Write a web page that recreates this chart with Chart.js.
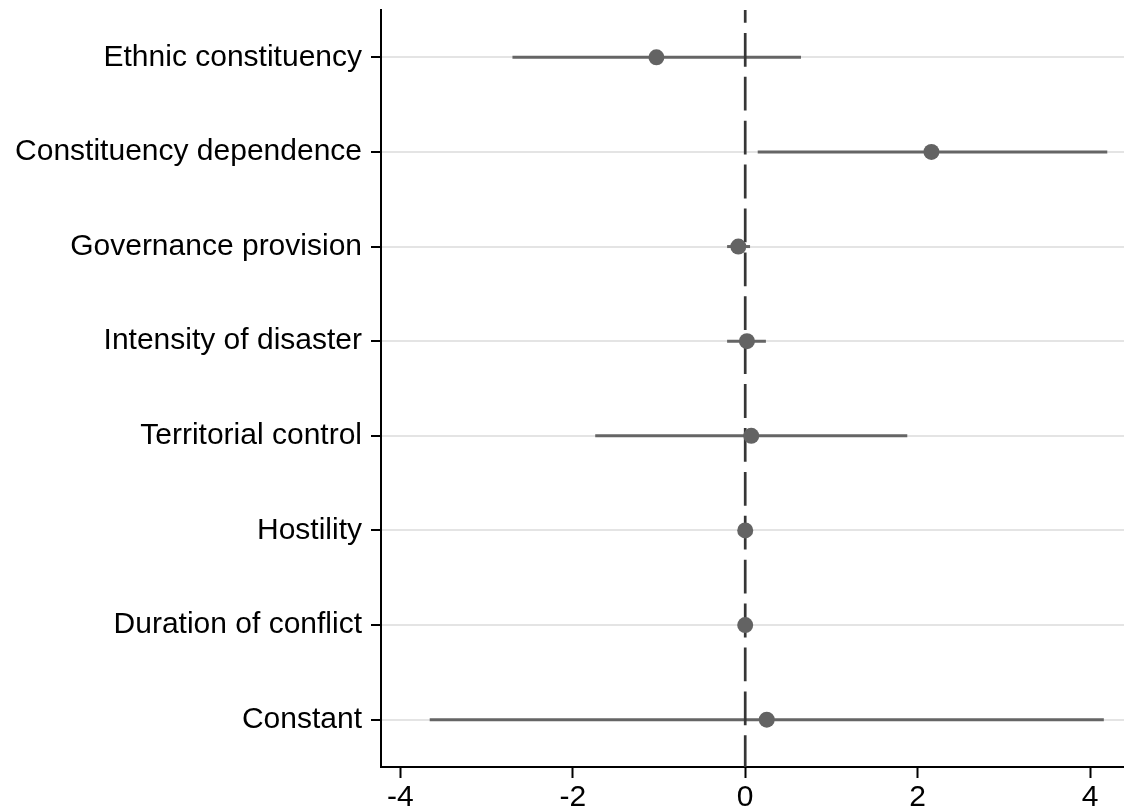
<!DOCTYPE html>
<html>
<head>
<meta charset="utf-8">
<script src="https://cdn.jsdelivr.net/npm/chart.js@4/dist/chart.umd.min.js"></script>
<style>
  html, body { margin: 0; padding: 0; background: #fff; }
  #wrap { width: 1124px; height: 812px; position: relative; }
</style>
</head>
<body>
<div id="wrap"><canvas id="c" width="1124" height="812"></canvas></div>
<script>
const categories = [
  "Ethnic constituency",
  "Constituency dependence",
  "Governance provision",
  "Intensity of disaster",
  "Territorial control",
  "Hostility",
  "Duration of conflict",
  "Constant"
];
const estimates = [-1.03, 2.16, -0.08, 0.02, 0.07, 0.00, 0.00, 0.25];
const lowerCI   = [-2.70, 0.145, -0.21, -0.21, -1.74, -0.02, -0.02, -3.66];
const upperCI   = [0.647, 4.20, 0.056, 0.24, 1.88, 0.02, 0.02, 4.16];
const xTicks = [-4, -2, 0, 2, 4];

Chart.defaults.font.family = "'Liberation Sans', Arial, Helvetica, sans-serif";
Chart.defaults.font.size = 30;
Chart.defaults.color = '#000';

const ciDatasets = categories.map((c, i) => ({
  type: 'line',
  label: 'ci-' + c,
  data: [{x: lowerCI[i], y: i}, {x: upperCI[i], y: i}],
  borderColor: '#656565',
  borderWidth: 3,
  pointRadius: 0,
  fill: false,
  order: 3
}));

const zeroLine = {
  type: 'line',
  label: 'zero',
  data: [{x: 0, y: -0.5}, {x: 0, y: categories.length - 0.5}],
  borderColor: '#363636',
  borderWidth: 2.7,
  borderDash: [33.8, 10.1],
  borderDashOffset: 21,
  pointRadius: 0,
  fill: false,
  order: 2
};

const pointsDs = {
  type: 'scatter',
  label: 'estimates',
  data: categories.map((c, i) => ({x: estimates[i], y: i})),
  backgroundColor: '#636363',
  borderWidth: 0,
  pointRadius: 8,
  pointHoverRadius: 8,
  order: 1
};

function zeroPad(s) { s.paddingTop = 0; s.paddingBottom = 0; s.paddingLeft = 0; s.paddingRight = 0; }

new Chart(document.getElementById('c'), {
  type: 'scatter',
  data: { datasets: [...ciDatasets, zeroLine, pointsDs] },
  options: {
    responsive: false,
    animation: false,
    events: [],
    layout: { autoPadding: false, padding: { top: 10, right: 0, left: 0, bottom: 0 } },
    plugins: { legend: { display: false }, tooltip: { enabled: false } },
    scales: {
      x: {
        type: 'linear',
        min: -4.225,
        max: 4.394,
        afterBuildTicks: (s) => { s.ticks = xTicks.map(v => ({value: v})); },
        afterFit: (s) => { s.height = 45; zeroPad(s); },
        ticks: { padding: 2, font: { size: 30 }, color: '#000',
                 callback: (v) => String(v) , maxRotation: 0, autoSkip: false},
        grid: { drawOnChartArea: false, drawTicks: true, tickLength: 11,
                tickColor: '#000', tickWidth: 2 },
        border: { display: true, color: '#000', width: 2 }
      },
      y: {
        type: 'linear',
        reverse: true,
        min: -0.5,
        max: categories.length - 0.5,
        afterBuildTicks: (s) => { s.ticks = categories.map((c, i) => ({value: i})); },
        afterFit: (s) => { s.width = 381; zeroPad(s); },
        ticks: { padding: 9, font: { size: 30 }, color: '#000',
                 callback: (v) => categories[v], autoSkip: false },
        grid: { drawOnChartArea: true, color: '#e4e4e4', lineWidth: 2,
                drawTicks: true, tickLength: 10, tickColor: '#000', tickWidth: 2 },
        border: { display: true, color: '#000', width: 2 }
      }
    }
  }
});
</script>
</body>
</html>
